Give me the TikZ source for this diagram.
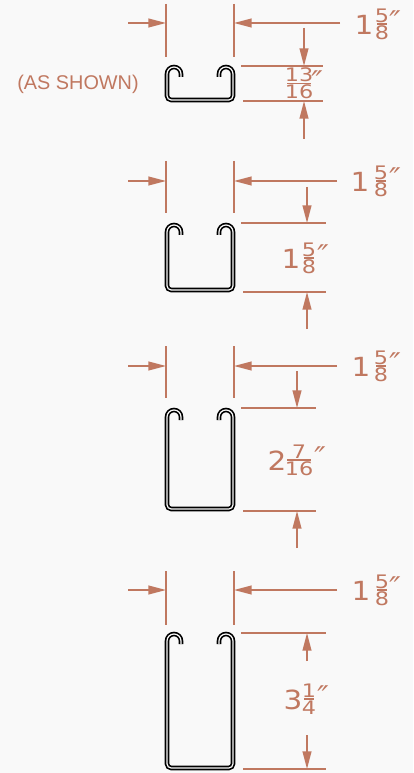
\documentclass[tikz,border=0pt]{standalone}
\usepackage{fontspec}
\setmainfont{Liberation Sans}
\newfontfamily\dimfont{DejaVu Sans}
\usepackage{xcolor}
\usetikzlibrary{arrows.meta}
\definecolor{dimcol}{RGB}{192,120,96}
\definecolor{paper}{RGB}{249,249,249}
\tikzset{
	dimline/.style={draw=dimcol,line width=0.85pt,-{Triangle[length=10pt,width=5pt]}},
	extline/.style={draw=dimcol,line width=0.85pt},
	channel/.style={draw=black,double=paper,double distance=0.7pt,line width=0.95pt},
	digit/.style={text=dimcol,inner sep=0pt,font=\dimfont\fontsize{10.6}{10.6}\selectfont,xscale=1.2},
	bigdigit/.style={text=dimcol,inner sep=0pt,font=\dimfont\fontsize{15}{15}\selectfont,xscale=1.12},
	inchmark/.style={text=dimcol,inner sep=0pt,font=\dimfont\fontsize{17}{17}\selectfont\itshape}
}
\newcommand{\chan}[2]{
	\draw[channel] (181,#1+12) [rounded corners=3.95pt] -- (181,#1+2) -- (167,#1+2) [rounded corners=2.4pt] -- (167,#2-2) -- (233,#2-2) [rounded corners=3.95pt] -- (233,#1+2) -- (219,#1+2) [sharp corners] -- (219,#1+12);
}
\newcommand{\widthdim}[4]{
	\draw[extline] (166,#1) -- (166,#2);
	\draw[extline] (234,#1) -- (234,#2);
	\draw[dimline] (128,#3) -- (166,#3);
	\draw[dimline] (#4,#3) -- (234,#3);
}
\newcommand{\fraclabel}[9]{
	\node[digit] (num#1) at (#2,#3-8.5) {#4};
	\node[digit] (den#1) at (#2,#3+8.5) {#5};
	\draw[extline] (#2-#6,#3) -- (#2+#6,#3);
	\node[bigdigit] (whole#1) at (#7,#3+1) {#8};
	\node[inchmark] (inch#1) at (#2+#9,#3-2) {″};
}
\begin{document}
\begin{tikzpicture}[x=0.02cm,y=-0.02cm]
	\fill[paper] (0,0) rectangle (413,773);
	\useasboundingbox (0,0) rectangle (413,773);
	\node[text=dimcol,inner sep=0pt,font=\fontsize{11.3}{12}\selectfont] (shown) at (78,84) {(AS SHOWN)};
	\chan{65}{102}
	\widthdim{4}{57}{23}{340}
	\draw[extline] (241,66) -- (323,66);
	\draw[extline] (243,101) -- (323,101);
	\draw[dimline] (304,28) -- (304,66);
	\draw[dimline] (304,139) -- (304,101);
	\fraclabel{a}{382}{24}{5}{8}{5}{364}{1}{13}
	\node[digit] (numb) at (299,75) {13};
	\node[digit] (denb) at (299,92) {16};
	\draw[extline] (287,83.5) -- (311,83.5);
	\node[inchmark] (inchb) at (317,82) {″};
	\chan{223}{292}
	\widthdim{161}{213}{181}{337}
	\draw[extline] (241,223) -- (326,223);
	\draw[extline] (243,292) -- (326,292);
	\draw[dimline] (307,187) -- (307,223);
	\draw[dimline] (307,329) -- (307,292);
	\fraclabel{c}{381}{181}{5}{8}{5}{360}{1}{14}
	\fraclabel{d}{309}{258}{5}{8}{5}{291}{1}{14}
	\chan{408}{511}
	\widthdim{346}{398}{366}{337}
	\draw[extline] (241,408) -- (316,408);
	\draw[extline] (243,511) -- (316,511);
	\draw[dimline] (297,371) -- (297,408);
	\draw[dimline] (297,548) -- (297,511);
	\fraclabel{e}{381}{366}{5}{8}{5}{361}{1}{14}
	\fraclabel{f}{299}{460}{7}{16}{12}{277}{2}{21}
	\chan{632}{770}
	\widthdim{571}{625}{590}{337}
	\draw[extline] (241,633) -- (326,633);
	\draw[extline] (243,769) -- (326,769);
	\draw[dimline] (307,661) -- (307,633);
	\draw[dimline] (307,735) -- (307,769);
	\fraclabel{g}{382}{590}{5}{8}{5}{361}{1}{13}
	\fraclabel{h}{309}{699}{1}{4}{5}{293}{3}{14}
\end{tikzpicture}
\end{document}
